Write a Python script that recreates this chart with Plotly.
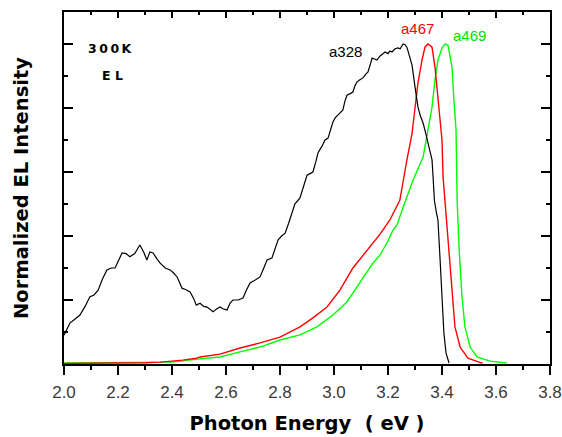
import plotly.graph_objects as go

# ---- data ----
e_a328 = [2.000, 2.022, 2.040, 2.059, 2.078, 2.096, 2.110, 2.126, 2.142, 2.159, 2.175, 2.189,
          2.203, 2.215, 2.230, 2.244, 2.262, 2.281, 2.295, 2.307, 2.318, 2.330, 2.343, 2.356,
          2.375, 2.393, 2.405, 2.419, 2.428, 2.437, 2.452, 2.467, 2.480, 2.490, 2.504, 2.517,
          2.530, 2.541, 2.552, 2.565, 2.578, 2.590, 2.604, 2.615, 2.626, 2.645, 2.663, 2.675,
          2.689, 2.707, 2.726, 2.740, 2.752, 2.770, 2.782, 2.793, 2.806, 2.819, 2.832, 2.844,
          2.855, 2.874, 2.887, 2.900, 2.911, 2.922, 2.932, 2.941, 2.955, 2.967, 2.978, 2.987,
          2.996, 3.005, 3.015, 3.025, 3.033, 3.040, 3.048, 3.060, 3.070, 3.078, 3.085, 3.096,
          3.107, 3.117, 3.126, 3.134, 3.141, 3.150, 3.159, 3.170, 3.180, 3.189, 3.200, 3.207,
          3.215, 3.226, 3.237, 3.245, 3.256, 3.263, 3.270, 3.280, 3.289, 3.300, 3.311, 3.320,
          3.330, 3.340, 3.348, 3.356, 3.363, 3.367, 3.372, 3.380, 3.385, 3.393, 3.400, 3.407,
          3.415, 3.426]
i_a328 = [0.090, 0.128, 0.140, 0.153, 0.180, 0.210, 0.215, 0.230, 0.265, 0.294, 0.300, 0.300,
          0.325, 0.347, 0.345, 0.335, 0.345, 0.372, 0.350, 0.325, 0.350, 0.347, 0.330, 0.315,
          0.300, 0.294, 0.285, 0.272, 0.255, 0.237, 0.232, 0.225, 0.205, 0.184, 0.190, 0.180,
          0.178, 0.170, 0.163, 0.172, 0.178, 0.172, 0.169, 0.190, 0.200, 0.200, 0.206, 0.230,
          0.253, 0.262, 0.272, 0.300, 0.325, 0.331, 0.360, 0.388, 0.400, 0.409, 0.440, 0.472,
          0.500, 0.519, 0.555, 0.590, 0.595, 0.600, 0.630, 0.660, 0.680, 0.700, 0.706, 0.730,
          0.756, 0.770, 0.778, 0.785, 0.794, 0.820, 0.840, 0.845, 0.850, 0.870, 0.881, 0.888,
          0.894, 0.905, 0.913, 0.935, 0.956, 0.953, 0.950, 0.962, 0.970, 0.975, 0.970, 0.978,
          0.975, 0.985, 0.988, 0.985, 1.000, 0.998, 0.990, 0.960, 0.934, 0.866, 0.803, 0.775,
          0.753, 0.720, 0.690, 0.665, 0.638, 0.584, 0.510, 0.470, 0.450, 0.325, 0.210, 0.097,
          0.034, 0.003]

e_a467 = [2.000, 2.100, 2.200, 2.300, 2.356, 2.440, 2.490, 2.504, 2.578, 2.652, 2.726, 2.800,
          2.874, 2.922, 2.974, 3.022, 3.070, 3.122, 3.170, 3.207, 3.244, 3.270, 3.289, 3.300,
          3.311, 3.326, 3.337, 3.348, 3.363, 3.374, 3.385, 3.400, 3.404, 3.411, 3.422, 3.437,
          3.448, 3.467, 3.496, 3.540, 3.550]
i_a467 = [0.002, 0.002, 0.003, 0.004, 0.006, 0.012, 0.018, 0.022, 0.031, 0.050, 0.066, 0.084,
          0.116, 0.144, 0.178, 0.231, 0.300, 0.356, 0.405, 0.450, 0.5125, 0.6375, 0.720, 0.800,
          0.878, 0.950, 0.990, 1.000, 0.990, 0.928, 0.825, 0.700, 0.584, 0.5125, 0.3875, 0.231,
          0.116, 0.053, 0.018, 0.005, 0.003]

e_a469 = [2.000, 2.300, 2.400, 2.504, 2.578, 2.652, 2.726, 2.800, 2.874, 2.937, 2.996, 3.048,
          3.096, 3.144, 3.170, 3.196, 3.219, 3.233, 3.256, 3.274, 3.293, 3.330, 3.348, 3.363,
          3.374, 3.385, 3.400, 3.411, 3.422, 3.437, 3.444, 3.452, 3.456, 3.463, 3.474, 3.485,
          3.504, 3.530, 3.578, 3.640]
i_a469 = [0.003, 0.004, 0.006, 0.016, 0.022, 0.038, 0.053, 0.075, 0.091, 0.116, 0.153, 0.194,
          0.256, 0.315, 0.340, 0.378, 0.419, 0.434, 0.490, 0.534, 0.575, 0.647, 0.731, 0.803,
          0.8875, 0.950, 0.9875, 1.000, 0.997, 0.928, 0.825, 0.731, 0.5125, 0.366, 0.210, 0.116,
          0.053, 0.022, 0.009, 0.003]

x_range = [2.0, 3.8]
y_range = [0.0, 1.1]
x_ticks = [2.0, 2.2, 2.4, 2.6, 2.8, 3.0, 3.2, 3.4, 3.6, 3.8]
x_tick_labels = ["2.0", "2.2", "2.4", "2.6", "2.8", "3.0", "3.2", "3.4", "3.6", "3.8"]

fig = go.Figure()
fig.add_trace(go.Scatter(x=e_a469, y=i_a469, mode="lines", line=dict(color="#00ff00", width=1.4),
                         showlegend=False))
fig.add_trace(go.Scatter(x=e_a467, y=i_a467, mode="lines", line=dict(color="#ff0000", width=1.4),
                         showlegend=False))
fig.add_trace(go.Scatter(x=e_a328, y=i_a328, mode="lines", line=dict(color="#000000", width=1.2),
                         showlegend=False))
# empty trace to bind the top tick axis
fig.add_trace(go.Scatter(x=[], y=[], xaxis="x2", yaxis="y", showlegend=False, hoverinfo="skip"))

ann_font = dict(family="DejaVu Sans, Verdana, sans-serif", size=12.5, color="#000000")
lab_font = dict(family="Liberation Sans, Arial, sans-serif", size=15)
annotations = [
    dict(x=2.174, y=0.9875, text="<b>3\u20090\u20090\u2009K</b>", font=ann_font),
    dict(x=2.178, y=0.903, text="<b>E L</b>", font=ann_font),
    dict(x=3.041, y=0.978, text="a328", font=dict(lab_font, color="#000000")),
    dict(x=3.311, y=1.047, text="a467", font=dict(lab_font, color="#ff0000")),
    dict(x=3.500, y=1.028, text="a469", font=dict(lab_font, color="#00e000")),
]
for a in annotations:
    a.update(xref="x", yref="y", showarrow=False, xanchor="center", yanchor="middle")

title_font = dict(family="DejaVu Sans, Arial Black, sans-serif", size=19.5, color="black")

fig.update_layout(
    width=562, height=437,
    margin=dict(l=64, r=12, t=12, b=73),
    paper_bgcolor="white", plot_bgcolor="white",
    annotations=annotations,
    xaxis=dict(
        range=x_range, tickvals=x_ticks, ticktext=x_tick_labels, automargin=False,
        showgrid=False, zeroline=False,
        showline=True, linecolor="black", linewidth=2, mirror=True,
        ticks="outside", ticklen=9, tickwidth=1.5, tickcolor="black",
        ticklabelstandoff=3,
        minor=dict(dtick=0.1, ticks="outside", ticklen=4, tickwidth=1.5, tickcolor="black"),
        tickfont=dict(family="Liberation Sans, Arial, sans-serif", size=17, color="#3a3a3a"),
        title=dict(text="<b>Photon Energy  ( eV )</b>", standoff=15, font=title_font),
    ),
    xaxis2=dict(
        range=x_range, overlaying="x", side="top", anchor="y", automargin=False,
        tickvals=x_ticks, showticklabels=False, showgrid=False, zeroline=False, showline=False,
        ticks="inside", ticklen=6, tickwidth=1.5, tickcolor="black",
        minor=dict(dtick=0.1, ticks="inside", ticklen=3, tickwidth=1.5, tickcolor="black"),
    ),
    yaxis=dict(
        range=y_range, dtick=0.2, tick0=0, showticklabels=False, automargin=False,
        showgrid=False, zeroline=False,
        showline=True, linecolor="black", linewidth=2, mirror="ticks",
        ticks="inside", ticklen=9, tickwidth=1.5, tickcolor="black",
        minor=dict(dtick=0.1, ticks="inside", ticklen=4, tickwidth=1.5, tickcolor="black"),
        title=dict(text="<b>Normalized EL Intensity</b>", standoff=28, font=title_font),
    ),
)

# remove the default page margin so the figure fills the 562x437 window exactly
fig.write_html("out.html",
               config={"displayModeBar": False},
               post_script="document.body.style.margin='0';document.body.style.overflow='hidden';")
